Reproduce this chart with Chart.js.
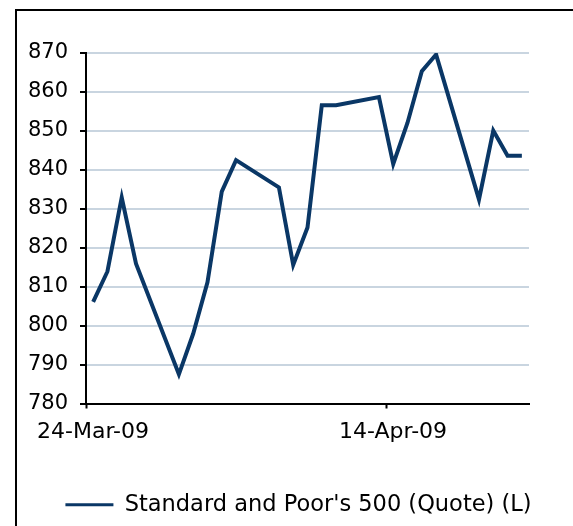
<!DOCTYPE html>
<html>
<head>
<meta charset="utf-8">
<script src="https://cdn.jsdelivr.net/npm/chart.js@4/dist/chart.umd.min.js"></script>
<style>
  html, body { margin: 0; padding: 0; background: #fff; overflow: hidden; }
  #wrap { position: relative; width: 573px; height: 526px; }
  #frame { position: absolute; left: 15px; top: 9px; width: 700px; height: 700px;
           border-left: 2.5px solid #000; border-top: 2.5px solid #000; }
  #chart { position: absolute; left: 0; top: 0; }
</style>
</head>
<body>
<div id="wrap">
  <div id="frame"></div>
  <canvas id="chart" width="573" height="526"></canvas>
</div>
<script>
// ----- data -----
const dates = [
  "2009-03-24","2009-03-25","2009-03-26","2009-03-27","2009-03-30","2009-03-31",
  "2009-04-01","2009-04-02","2009-04-03","2009-04-06","2009-04-07","2009-04-08",
  "2009-04-09","2009-04-10","2009-04-13","2009-04-14","2009-04-15","2009-04-16",
  "2009-04-17","2009-04-20","2009-04-21","2009-04-22","2009-04-23"
];
const spx = [
  806.1, 813.9, 832.9, 815.9, 787.5, 797.9,
  811.1, 834.4, 842.5, 835.5, 815.6, 825.2,
  856.6, 856.6, 858.7, 841.5, 852.1, 865.3,
  869.6, 832.4, 850.1, 843.6, 843.6
];
const tickDates = ["2009-03-24", "2009-04-14"];
const tickLabels = ["24-Mar-09", "14-Apr-09"];
const seriesName = "Standard and Poor's 500 (Quote) (L)";

const navy = "#0a3766";
const DAY = 86400000;
const dayIndex = d => (Date.parse(d) - Date.parse(dates[0])) / DAY;
const points = dates.map((d, i) => ({ x: dayIndex(d), y: spx[i] }));

Chart.defaults.font.family = "'DejaVu Sans', Verdana, sans-serif";
Chart.defaults.color = "#000";

new Chart(document.getElementById("chart"), {
  type: "line",
  data: {
    datasets: [{
      label: seriesName,
      data: points,
      borderColor: navy,
      backgroundColor: navy,
      borderWidth: 4,
      pointRadius: 0,
      tension: 0
    }]
  },
  options: {
    responsive: false,
    animation: false,
    layout: { padding: { left: 24, top: 53, right: 0, bottom: 0 } },
    plugins: {
      tooltip: { enabled: false },
      legend: {
        position: "bottom",
        labels: {
          boxWidth: 48,
          boxHeight: 3,
          padding: 5,
          font: { size: 22.5 },
          generateLabels: chart => Chart.defaults.plugins.legend.labels.generateLabels(chart)
            .map(l => ({ ...l, lineWidth: 0, fillStyle: navy }))
        }
      }
    },
    scales: {
      x: {
        type: "linear",
        min: -0.5,
        max: dayIndex(dates[dates.length - 1]) + 0.5,
        afterBuildTicks: s => { s.ticks = tickDates.map(d => ({ value: dayIndex(d) - 0.5 })); },
        afterFit: s => { s.height = 85; },
        ticks: {
          callback: (v, i) => tickLabels[i],
          labelOffset: 7,
          padding: 11,
          maxRotation: 0,
          autoSkip: false,
          font: { size: 22 }
        },
        grid: { drawOnChartArea: false, tickLength: 5, tickColor: "#000", tickWidth: 2 },
        border: { color: "#000", width: 2 }
      },
      y: {
        min: 780,
        max: 870,
        afterFit: s => { s.width = 62; },
        ticks: { stepSize: 10, padding: 12, font: { size: 21 } },
        grid: {
          color: c => (c.tick && c.tick.value === 780) ? "rgba(0,0,0,0)" : "#c9d5e0",
          lineWidth: 2,
          tickLength: 6,
          tickColor: "#000",
          tickWidth: 2
        },
        border: { color: "#000", width: 2 }
      },
      y2: {
        position: "right",
        afterFit: s => { s.width = 44; },
        ticks: { display: false },
        grid: { display: false },
        border: { display: false }
      }
    }
  }
});
</script>
</body>
</html>
